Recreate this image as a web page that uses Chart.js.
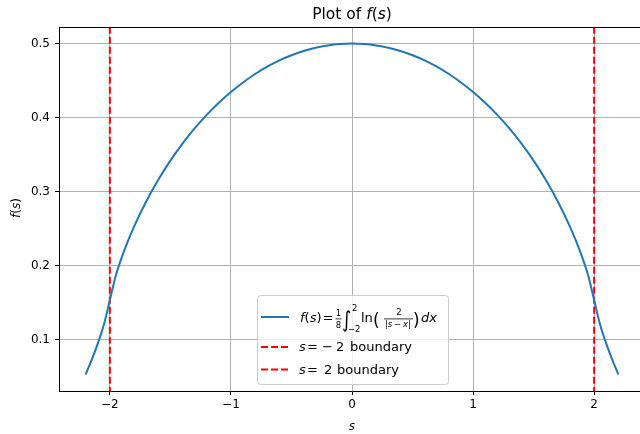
<!DOCTYPE html>
<html>
<head>
<meta charset="utf-8">
<script src="https://cdn.jsdelivr.net/npm/chart.js@4.4.1/dist/chart.umd.min.js"></script>
<style>
  html, body { margin: 0; padding: 0; background: #fff; overflow: hidden; }
  canvas { display: block; }
</style>
</head>
<body>
<canvas id="plot" width="660" height="434"></canvas>
<script>
// values
const sValues = [-2.2, -2.15, -2.1, -2.05, -2.0, -1.95, -1.9, -1.85, -1.8, -1.7, -1.6, -1.5, -1.4, -1.3, -1.2, -1.1, -1.0,
                 -0.9, -0.8, -0.7, -0.6, -0.5, -0.4, -0.3, -0.2, -0.1, 0,
                 0.1, 0.2, 0.3, 0.4, 0.5, 0.6, 0.7, 0.8, 0.9,
                 1.0, 1.1, 1.2, 1.3, 1.4, 1.5, 1.6, 1.7, 1.8, 1.85, 1.9, 1.95, 2.0, 2.05, 2.1, 2.15, 2.2];
const fValues = [0.0529, 0.0728, 0.0947, 0.1198, 0.1534, 0.1870, 0.2119, 0.2334, 0.2527, 0.2866, 0.3160, 0.3418, 0.3648, 0.3853, 0.4036, 0.4200, 0.4346,
                 0.4475, 0.4589, 0.4687, 0.4772, 0.4842, 0.4899, 0.4944, 0.4975, 0.4994, 0.5,
                 0.4994, 0.4975, 0.4944, 0.4899, 0.4842, 0.4772, 0.4687, 0.4589, 0.4475,
                 0.4346, 0.4200, 0.4036, 0.3853, 0.3648, 0.3418, 0.3160, 0.2866, 0.2527, 0.2334, 0.2119, 0.1870, 0.1534, 0.1198, 0.0947, 0.0728, 0.0529];
const boundaryS = [-2, 2];
const xTicks = [-2, -1, 0, 1, 2];
const yTicks = [0.1, 0.2, 0.3, 0.4, 0.5];

const FONT = '"DejaVu Sans", sans-serif';
const minus = v => String(v).replace('-', '\u2212');

// draws a run of text pieces left to right, returns the end x
function run(ctx, x, y, parts) {
    parts.forEach(p => {
        ctx.font = p.f;
        ctx.fillText(p.t, x, y + (p.dy || 0));
        x += ctx.measureText(p.t).width + (p.sp || 0);
    });
    return x;
}

const R = '12px ' + FONT;
const I = 'italic 12px ' + FONT;
const L = '13px ' + FONT;
const LI = 'italic 13px ' + FONT;
const SM = '8.5px ' + FONT;
const SMI = 'italic 8.5px ' + FONT;

const textPlugin = {
    id: 'texts',
    afterDraw(chart) {
        const ctx = chart.ctx;
        const area = chart.chartArea;
        ctx.save();
        ctx.fillStyle = '#000';
        ctx.textBaseline = 'alphabetic';
        ctx.textAlign = 'left';

        // top spine
        ctx.strokeStyle = '#000';
        ctx.lineWidth = 1;
        ctx.beginPath();
        ctx.moveTo(area.left, area.top + 0.5);
        ctx.lineTo(area.right, area.top + 0.5);
        ctx.stroke();

        // title "Plot of f(s)"
        const title = [{t: 'Plot of ', f: '15.5px ' + FONT}, {t: 'f', f: 'italic 15.5px ' + FONT},
                       {t: '(', f: '15.5px ' + FONT}, {t: 's', f: 'italic 15.5px ' + FONT}, {t: ')', f: '15.5px ' + FONT}];
        let w = 0;
        title.forEach(p => { ctx.font = p.f; w += ctx.measureText(p.t).width; });
        run(ctx, 352 - w / 2, 19, title);

        // x label
        ctx.font = I;
        ctx.textAlign = 'center';
        ctx.fillText('s', 352, 430);

        // y label
        ctx.save();
        ctx.translate(20, 208);
        ctx.rotate(-Math.PI / 2);
        ctx.textAlign = 'left';
        const yl = [{t: 'f', f: I}, {t: '(', f: R}, {t: 's', f: I}, {t: ')', f: R}];
        w = 0;
        yl.forEach(p => { ctx.font = p.f; w += ctx.measureText(p.t).width; });
        run(ctx, -w / 2, 0, yl);
        ctx.restore();

        // legend box
        ctx.textAlign = 'left';
        ctx.fillStyle = 'rgba(255,255,255,0.8)';
        ctx.strokeStyle = '#cccccc';
        ctx.lineWidth = 1;
        ctx.beginPath();
        ctx.roundRect(257.5, 295.5, 191, 89, 3);
        ctx.fill();
        ctx.stroke();

        // legend samples
        const rows = [317, 347, 369.5];
        ctx.lineWidth = 2;
        ctx.strokeStyle = '#1f77b4';
        ctx.beginPath();
        ctx.moveTo(261, rows[0]);
        ctx.lineTo(289, rows[0]);
        ctx.stroke();
        ctx.strokeStyle = '#ff0000';
        ctx.setLineDash([7, 3]);
        [rows[1], rows[2]].forEach(y => {
            ctx.beginPath();
            ctx.moveTo(261, y);
            ctx.lineTo(289, y);
            ctx.stroke();
        });
        ctx.setLineDash([]);

        // legend row 1: f(s) = 1/8 ∫_{-2}^{2} ln(2/|s-x|) dx
        ctx.fillStyle = '#000';
        const b = 322;
        run(ctx, 300, b, [{t: 'f', f: LI}, {t: '(', f: L}, {t: 's', f: LI}, {t: ')', f: L}]);
        ctx.font = L;
        ctx.fillText('=', 322.5, b);
        ctx.textAlign = 'center';
        ctx.font = SM;
        ctx.fillText('1', 338.5, 316);
        ctx.fillText('8', 338.5, 328);
        ctx.fillRect(335.5, 318.5, 6, 0.8);
        ctx.textAlign = 'left';
        ctx.save();
        ctx.translate(342, 327);
        ctx.scale(0.8, 1);
        ctx.font = '22px ' + FONT;
        ctx.fillText('\u222B', 0, 0);
        ctx.restore();
        ctx.font = SM;
        ctx.fillText('2', 352, 311);
        ctx.fillText('\u22122', 348, 332);
        ctx.font = L;
        ctx.fillText('ln', 361, b);
        ctx.font = '17px ' + FONT;
        ctx.fillText('(', 373, 326);
        ctx.textAlign = 'center';
        ctx.font = SM;
        ctx.fillText('2', 399, 315);
        ctx.fillRect(384, 318.5, 29, 0.8);
        ctx.textAlign = 'left';
        run(ctx, 385, 327, [{t: '|', f: SM}, {t: 's', f: SMI, sp: 1.8}, {t: '\u2212', f: SM, sp: 1.8},
                            {t: 'x', f: SMI}, {t: '|', f: SM}]);
        ctx.font = '17px ' + FONT;
        ctx.fillText(')', 413, 326);
        ctx.font = LI;
        ctx.fillText('dx', 421, b);

        // legend rows 2 and 3
        ctx.font = LI;
        ctx.fillText('s', 299, 351);
        ctx.fillText('s', 299, 374);
        ctx.font = L;
        ctx.fillText('=', 307, 351);
        ctx.fillText('\u2212', 322, 351);
        ctx.fillText('2', 336, 351);
        ctx.fillText('boundary', 350, 351);
        ctx.fillText('=', 307, 374);
        ctx.fillText('2', 324, 374);
        ctx.fillText('boundary', 337, 374);

        ctx.restore();
    }
};

const curve = sValues.map((s, i) => ({x: s, y: fValues[i]}));
const vline = s => [{x: s, y: 0}, {x: s, y: 1}];

new Chart(document.getElementById('plot'), {
    type: 'line',
    data: {
        datasets: [
            {
                label: 'f(s) = 1/8 \u222B ln(2/|s\u2212x|) dx',
                data: curve,
                borderColor: '#1f77b4',
                borderWidth: 2,
                pointRadius: 0,
                cubicInterpolationMode: 'monotone',
                clip: 0
            },
            {
                label: 's = \u22122 boundary',
                data: vline(boundaryS[0]),
                borderColor: '#ff0000',
                borderWidth: 2,
                borderDash: [7, 3],
                pointRadius: 0,
                clip: 0
            },
            {
                label: 's = 2 boundary',
                data: vline(boundaryS[1]),
                borderColor: '#ff0000',
                borderWidth: 2,
                borderDash: [7, 3],
                pointRadius: 0,
                clip: 0
            }
        ]
    },
    options: {
        responsive: false,
        animation: false,
        layout: { padding: { left: 0, top: 27, right: 15, bottom: 0 } },
        plugins: {
            legend: { display: false },
            title: { display: false },
            tooltip: { enabled: false }
        },
        scales: {
            x: {
                type: 'linear',
                min: -2.42,
                max: 2.42,
                afterBuildTicks: axis => { axis.ticks = xTicks.map(v => ({value: v})); },
                afterFit: axis => { axis.height = 43; },
                ticks: {
                    color: '#000',
                    font: { family: FONT, size: 12 },
                    padding: 3,
                    maxRotation: 0,
                    callback: v => minus(v)
                },
                grid: { color: '#b0b0b0', lineWidth: 1, tickColor: '#000', tickLength: 4 },
                border: { color: '#000', width: 1 }
            },
            y: {
                type: 'linear',
                min: 0.0306,
                max: 0.5224,
                afterBuildTicks: axis => { axis.ticks = yTicks.map(v => ({value: v})); },
                afterFit: axis => { axis.width = 59; },
                ticks: {
                    color: '#000',
                    font: { family: FONT, size: 12 },
                    padding: 5,
                    callback: v => v.toFixed(1)
                },
                grid: { color: '#b0b0b0', lineWidth: 1, tickColor: '#000', tickLength: 4 },
                border: { color: '#000', width: 1 }
            }
        }
    },
    plugins: [textPlugin]
});
</script>
</body>
</html>
